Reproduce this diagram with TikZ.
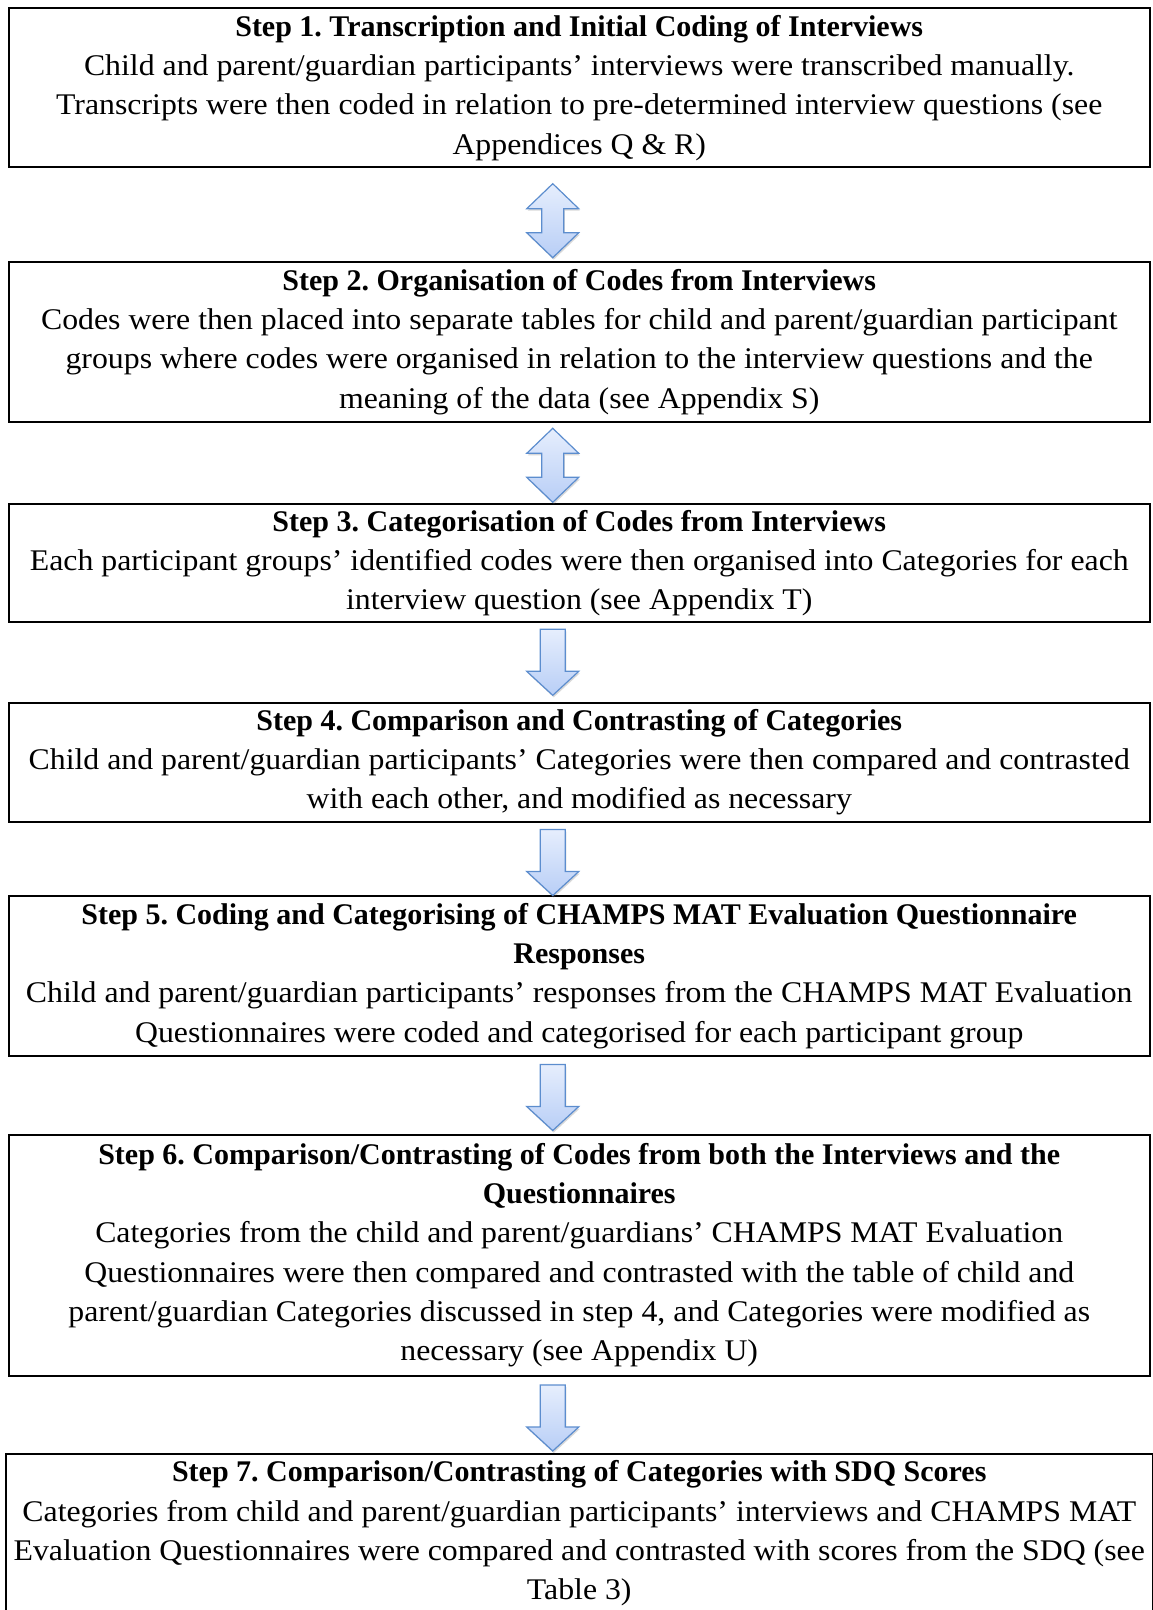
\documentclass[tikz,border=0pt]{standalone}
\usepackage{fontspec}
\setmainfont{Liberation Serif}[FakeStretch=1.06]
\newfontfamily\headfont{Liberation Serif}[FakeStretch=1.0]
\usepackage{tikz}
\usetikzlibrary{%
  calc,%
  shadows,%
  positioning% wg. " of "
}
\frenchspacing

\definecolor{arrowline}{RGB}{92,141,206}
\definecolor{arrowtop}{RGB}{230,238,253}
\definecolor{arrowbot}{RGB}{184,206,246}

\newcommand{\steptitle}[1]{{\headfont\bfseries #1}}
% block arrows, #1 = top point
\newcommand{\twowayarrow}[1]{%
  \draw[blockarrow] #1 -- ++(26,25) -- ++(-15,0) -- ++(0,24) -- ++(15,0)
    -- ++(-26,25) -- ++(-26,-25) -- ++(15,0) -- ++(0,-24) -- ++(-15,0) -- cycle;}
\newcommand{\onewayarrow}[1]{%
  \draw[blockarrow] #1 ++(-12.5,0) -- ++(25,0) -- ++(0,42) -- ++(13.5,0)
    -- ++(-26,24) -- ++(-26,-24) -- ++(13.5,0) -- cycle;}

\begin{document}
\begin{tikzpicture}[
  x=1pt, y=-1pt,
  font={\fontsize{30pt}{39.3pt}\selectfont},
  stepbox/.style={draw=black, line width=2pt, align=center,
    inner xsep=8pt, inner ysep=2pt, minimum width=1141.5pt},
  blockarrow/.style={draw=arrowline, line width=1.2pt, line join=miter,
    top color=arrowtop, bottom color=arrowbot,
    drop shadow={shadow xshift=1pt, shadow yshift=-2pt, opacity=0.25, fill=black!60}}
]
\useasboundingbox (0,0) rectangle (1152,1610);

\node[stepbox, minimum height=159pt] (s1) at (579.25,87.8) {%
  \steptitle{Step 1. Transcription and Initial Coding of Interviews}\\
  Child and parent/guardian participants’ interviews were transcribed manually.\\
  Transcripts were then coded in relation to pre-determined interview questions (see\\
  Appendices Q \& R)};
\node[stepbox, minimum height=160.3pt] (s2) at (579.25,341.85) {%
  \steptitle{Step 2. Organisation of Codes from Interviews}\\
  Codes were then placed into separate tables for child and parent/guardian participant\\
  groups where codes were organised in relation to the interview questions and the\\
  meaning of the data (see Appendix S)};
\node[stepbox, minimum height=118pt] (s3) at (579.25,563) {%
  \steptitle{Step 3. Categorisation of Codes from Interviews}\\
  Each participant groups’ identified codes were then organised into Categories for each\\
  interview question (see Appendix T)};
\node[stepbox, minimum height=118.5pt] (s4) at (579.25,762.25) {%
  \steptitle{Step 4. Comparison and Contrasting of Categories}\\
  Child and parent/guardian participants’ Categories were then compared and contrasted\\
  with each other, and modified as necessary};
\node[stepbox, minimum height=159.5pt] (s5) at (579.25,975.75) {%
  \steptitle{Step 5. Coding and Categorising of CHAMPS MAT Evaluation Questionnaire}\\
  \steptitle{Responses}\\
  Child and parent/guardian participants’ responses from the CHAMPS MAT Evaluation\\
  Questionnaires were coded and categorised for each participant group};
\node[stepbox, minimum height=241.5pt] (s6) at (579.25,1255.25) {%
  \steptitle{Step 6. Comparison/Contrasting of Codes from both the Interviews and the}\\
  \steptitle{Questionnaires}\\
  Categories from the child and parent/guardians’ CHAMPS MAT Evaluation\\
  Questionnaires were then compared and contrasted with the table of child and\\
  parent/guardian Categories discussed in step 4, and Categories were modified as\\
  necessary (see Appendix U)};
\node[stepbox, minimum height=159pt] (s7) at (579.25,1533.5) {%
  \steptitle{Step 7. Comparison/Contrasting of Categories with SDQ Scores}\\
  Categories from child and parent/guardian participants’ interviews and CHAMPS MAT\\
  Evaluation Questionnaires were compared and contrasted with scores from the SDQ (see\\
  Table 3)};

\twowayarrow{($(s1.south)+(-26.5,15.4)$)}
\twowayarrow{($(s2.south)+(-26.5,5.3)$)}
\onewayarrow{($(s3.south)+(-26.5,6.3)$)}
\onewayarrow{($(s4.south)+(-26.5,7)$)}
\onewayarrow{($(s5.south)+(-26.5,8)$)}
\onewayarrow{($(s6.south)+(-26.5,8)$)}
\end{tikzpicture}
\end{document}
